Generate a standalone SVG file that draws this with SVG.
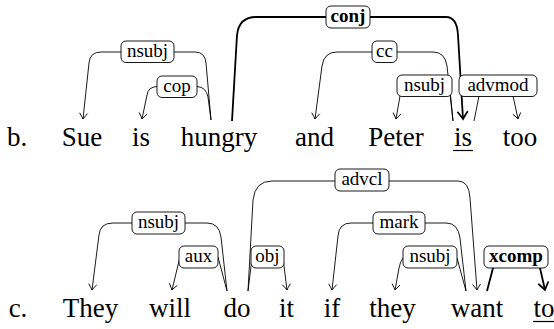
<svg xmlns="http://www.w3.org/2000/svg" width="554" height="329" viewBox="0 0 554 329">
<defs>
<marker id="a" markerUnits="userSpaceOnUse" orient="auto" refX="0" refY="0" markerWidth="12" markerHeight="12" viewBox="-7 -6 9 12" overflow="visible">
<path d="M-5.5,-3.8 Q-1.6,-0.9 0,0 Q-1.6,0.9 -5.5,3.8" fill="none" stroke="#000" stroke-width="0.9" stroke-linecap="round"/>
</marker>
<marker id="ab" markerUnits="userSpaceOnUse" orient="auto" refX="0" refY="0" markerWidth="14" markerHeight="14" viewBox="-9 -7 11 14" overflow="visible">
<path d="M-7,-4.8 Q-2,-1.2 0,0 Q-2,1.2 -7,4.8" fill="none" stroke="#000" stroke-width="1.7" stroke-linecap="round"/>
</marker>
</defs>

<g id="connectors" fill="none" stroke="#000" stroke-width="0.9">
<path d="M211,120 L206,63 Q205,52 195,52 H101 Q90,52 89,63 L83,119" marker-end="url(#a)"/>
<path d="M211,120 L208,97 Q206,87 197,86.5 H157 Q148,87 147,95 L142,119" marker-end="url(#a)"/>
<path stroke-width="1.8" d="M232,121 L237,35 Q239,17 256,17 H446 Q457,17 458,35 L463,119" marker-end="url(#ab)"/>
<path d="M453,121 L447,66 Q445,52 433,52 H337 Q324,52 322,66 L315,119" marker-end="url(#a)"/>
<path d="M453,121 L450,90 Q449,86 445,86 H405 Q401,86 400,96 L396,119" marker-end="url(#a)"/>
<path d="M474,121 L479,96 L481,86 H511 L513,96 L518,119" marker-end="url(#a)"/>
<path d="M227,291 L221,237 Q219,223 207,223 H113 Q100,223 99,235 L92,290" marker-end="url(#a)"/>
<path d="M227,291 L218,257 H180 L172,290" marker-end="url(#a)"/>
<path d="M248,291 L252,258 H283 L287,290" marker-end="url(#a)"/>
<path d="M248,291 L253,200 Q255,181 272,181 H458 Q469,181 470,198 L477,290" marker-end="url(#a)"/>
<path d="M466,291 L460,238 Q458,223 446,223 H351 Q339,223 338,236 L332,290" marker-end="url(#a)"/>
<path d="M466,291 L457,258 H403 Q400,262 399,268 L395,290" marker-end="url(#a)"/>
<path stroke-width="1.8" d="M487,291 L493,268 L495,258 H538 L540,268 L545,290" marker-end="url(#ab)"/>
</g>

<g id="label-nsubj-b1"><rect x="121" y="41" width="53" height="21.5" rx="5" fill="#fff" stroke="#000" stroke-width="0.9"/><text x="147.5" y="57" font-family="Liberation Serif" font-size="19" text-anchor="middle">nsubj</text></g>
<g id="label-cop-b"><rect x="157" y="76" width="40" height="21.5" rx="5" fill="#fff" stroke="#000" stroke-width="0.9"/><text x="177" y="91.5" font-family="Liberation Serif" font-size="19" text-anchor="middle">cop</text></g>
<g id="label-conj-b"><rect x="326" y="6" width="44" height="22" rx="5" fill="#fff" stroke="#000" stroke-width="0.9"/><text x="348" y="22" font-family="Liberation Serif" font-size="19" font-weight="bold" text-anchor="middle">conj</text></g>
<g id="label-cc-b"><rect x="372" y="41" width="25" height="21.5" rx="5" fill="#fff" stroke="#000" stroke-width="0.9"/><text x="384.5" y="57" font-family="Liberation Serif" font-size="19" text-anchor="middle">cc</text></g>
<g id="label-nsubj-b2"><rect x="397" y="75" width="55" height="21.5" rx="5" fill="#fff" stroke="#000" stroke-width="0.9"/><text x="424.5" y="91" font-family="Liberation Serif" font-size="19" text-anchor="middle">nsubj</text></g>
<g id="label-advmod-b"><rect x="459" y="75" width="78" height="21.5" rx="5" fill="#fff" stroke="#000" stroke-width="0.9"/><text x="498" y="91" font-family="Liberation Serif" font-size="19" text-anchor="middle">advmod</text></g>
<g id="label-nsubj-c1"><rect x="132" y="212" width="53" height="22" rx="5" fill="#fff" stroke="#000" stroke-width="0.9"/><text x="158.5" y="228" font-family="Liberation Serif" font-size="19" text-anchor="middle">nsubj</text></g>
<g id="label-aux-c"><rect x="179" y="246" width="39" height="22" rx="5" fill="#fff" stroke="#000" stroke-width="0.9"/><text x="198.5" y="262" font-family="Liberation Serif" font-size="19" text-anchor="middle">aux</text></g>
<g id="label-obj-c"><rect x="251" y="246" width="33" height="22" rx="5" fill="#fff" stroke="#000" stroke-width="0.9"/><text x="267.5" y="262" font-family="Liberation Serif" font-size="19" text-anchor="middle">obj</text></g>
<g id="label-advcl-c"><rect x="335" y="169" width="54" height="22" rx="5" fill="#fff" stroke="#000" stroke-width="0.9"/><text x="362" y="185" font-family="Liberation Serif" font-size="19" text-anchor="middle">advcl</text></g>
<g id="label-mark-c"><rect x="373" y="212" width="52" height="22" rx="5" fill="#fff" stroke="#000" stroke-width="0.9"/><text x="399" y="228" font-family="Liberation Serif" font-size="19" text-anchor="middle">mark</text></g>
<g id="label-nsubj-c2"><rect x="403" y="246" width="54" height="22" rx="5" fill="#fff" stroke="#000" stroke-width="0.9"/><text x="430" y="262" font-family="Liberation Serif" font-size="19" text-anchor="middle">nsubj</text></g>
<g id="label-xcomp-c"><rect x="484" y="246" width="64" height="22" rx="5" fill="#fff" stroke="#000" stroke-width="0.9"/><text x="516" y="262" font-family="Liberation Serif" font-size="19" font-weight="bold" text-anchor="middle">xcomp</text></g>

<g id="sentence-b">
<text x="17" y="146" font-family="Liberation Serif" font-size="27" text-anchor="middle">b.</text>
<text x="82" y="146" font-family="Liberation Serif" font-size="27" text-anchor="middle">Sue</text>
<text x="141" y="146" font-family="Liberation Serif" font-size="27" text-anchor="middle">is</text>
<text x="219" y="146" font-family="Liberation Serif" font-size="27" text-anchor="middle">hungry</text>
<text x="314.5" y="146" font-family="Liberation Serif" font-size="27" text-anchor="middle">and</text>
<text x="396" y="146" font-family="Liberation Serif" font-size="27" text-anchor="middle">Peter</text>
<text x="463" y="146" font-family="Liberation Serif" font-size="27" text-anchor="middle">is</text>
<line x1="453" y1="150.5" x2="473" y2="150.5" stroke="#000" stroke-width="1.2"/>
<text x="520" y="146" font-family="Liberation Serif" font-size="27" text-anchor="middle">too</text>
</g>

<g id="sentence-c">
<text x="18" y="317" font-family="Liberation Serif" font-size="27" text-anchor="middle">c.</text>
<text x="90.5" y="317" font-family="Liberation Serif" font-size="27" text-anchor="middle">They</text>
<text x="170" y="317" font-family="Liberation Serif" font-size="27" text-anchor="middle">will</text>
<text x="237" y="317" font-family="Liberation Serif" font-size="27" text-anchor="middle">do</text>
<text x="286.5" y="317" font-family="Liberation Serif" font-size="27" text-anchor="middle">it</text>
<text x="332" y="317" font-family="Liberation Serif" font-size="27" text-anchor="middle">if</text>
<text x="392.5" y="317" font-family="Liberation Serif" font-size="27" text-anchor="middle">they</text>
<text x="477" y="317" font-family="Liberation Serif" font-size="27" text-anchor="middle">want</text>
<text x="544" y="317" font-family="Liberation Serif" font-size="27" text-anchor="middle">to</text>
<line x1="533" y1="321.5" x2="554" y2="321.5" stroke="#000" stroke-width="1.2"/>
</g>
</svg>
